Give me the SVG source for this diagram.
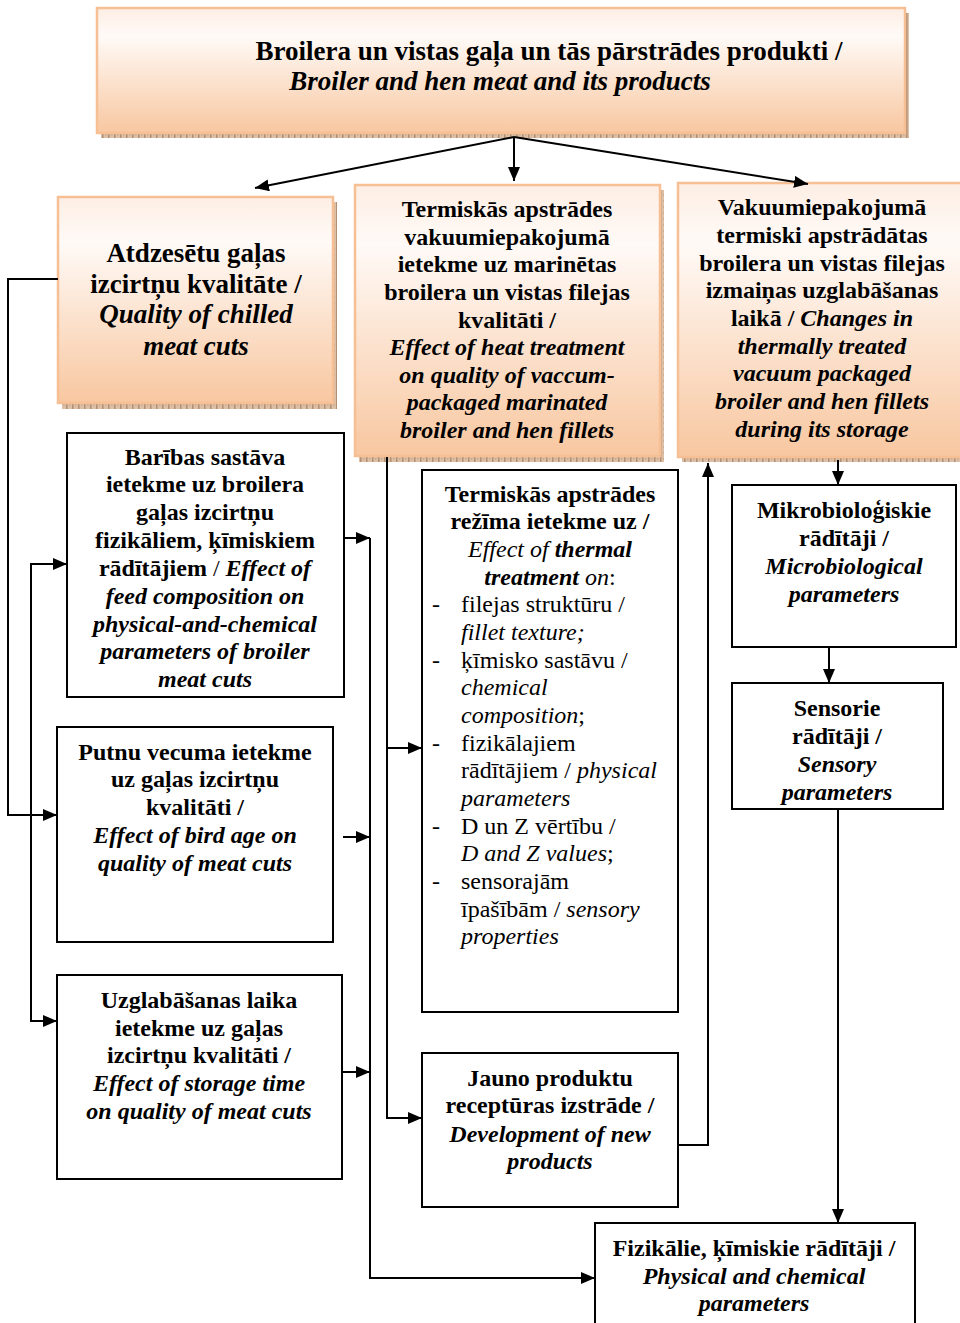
<svg xmlns="http://www.w3.org/2000/svg" width="960" height="1323" viewBox="0 0 960 1323" font-family="'Liberation Serif', 'Times New Roman', serif">
<defs>
<linearGradient id="peach" x1="0" y1="0" x2="0" y2="1">
<stop offset="0" stop-color="#fdeee4"/>
<stop offset="0.22" stop-color="#fffaf7"/>
<stop offset="1" stop-color="#f8c7a0"/>
</linearGradient>
<pattern id="shadowPat" width="6" height="6" patternUnits="userSpaceOnUse">
<rect width="6" height="6" fill="#dcbfa5"/>
<rect x="0" y="0" width="1.5" height="6" fill="#b28f72"/>
<rect x="3" y="2" width="1.5" height="1.5" fill="#c9a78a"/>
</pattern>
<marker id="ah" viewBox="0 0 14 12" refX="14" refY="6" markerWidth="14" markerHeight="12" markerUnits="userSpaceOnUse" orient="auto">
<path d="M0,0 L14,6 L0,12 z" fill="#000"/>
</marker>
</defs>
<style>
text{font-family:"Liberation Serif","Times New Roman",serif;font-size:24px;fill:#000}
.c{text-anchor:middle}
.b{font-weight:bold}
.bi{font-weight:bold;font-style:italic}
.i{font-style:italic}
.n{font-weight:normal;font-style:normal}
.big{font-size:27px}
.pbox{fill:url(#peach);stroke:#f7bf94;stroke-width:2.5}
.shadow{fill:url(#shadowPat)}
.wbox{fill:#fff;stroke:#000;stroke-width:2}
.ln{fill:none;stroke:#000;stroke-width:2}
</style>

<g id="node-title">
<rect class="shadow" x="101" y="13" width="808" height="125"/>
<rect class="pbox" x="97" y="8" width="808" height="125"/>
<text class="c b big" x="549" y="60">Broilera un vistas gaļa un tās pārstrādes produkti /</text>
<text class="c bi big" x="500" y="90">Broiler and hen meat and its products</text>
</g>

<g id="node-chilled">
<rect class="shadow" x="62" y="202" width="275" height="207"/>
<rect class="pbox" x="58" y="197" width="275" height="206"/>
<text class="c b big" x="196" y="262">Atdzesētu gaļas</text>
<text class="c b big" x="196" y="293">izcirtņu kvalitāte /</text>
<text class="c bi big" x="196" y="323">Quality of chilled</text>
<text class="c bi big" x="196" y="355">meat cuts</text>
</g>

<g id="node-heat-vacuum">
<rect class="shadow" x="359" y="190" width="305" height="272"/>
<rect class="pbox" x="355" y="185" width="305" height="271"/>
<text class="c b" x="507" y="217">Termiskās apstrādes</text>
<text class="c b" x="507" y="245">vakuumiepakojumā</text>
<text class="c b" x="507" y="272">ietekme uz marinētas</text>
<text class="c b" x="507" y="300">broilera un vistas filejas</text>
<text class="c b" x="507" y="328">kvalitāti /</text>
<text class="c bi" x="507" y="355">Effect of heat treatment</text>
<text class="c bi" x="507" y="383">on quality of vaccum-</text>
<text class="c bi" x="507" y="410">packaged marinated</text>
<text class="c bi" x="507" y="438">broiler and hen fillets</text>
</g>

<g id="node-storage-changes">
<rect class="shadow" x="682" y="188" width="290" height="274"/>
<rect class="pbox" x="678" y="183" width="290" height="274"/>
<text class="c b" x="822" y="215">Vakuumiepakojumā</text>
<text class="c b" x="822" y="243">termiski apstrādātas</text>
<text class="c b" x="822" y="271">broilera un vistas filejas</text>
<text class="c b" x="822" y="298">izmaiņas uzglabāšanas</text>
<text class="c b" x="822" y="326">laikā / <tspan class="bi">Changes in</tspan></text>
<text class="c bi" x="822" y="354">thermally treated</text>
<text class="c bi" x="822" y="381">vacuum packaged</text>
<text class="c bi" x="822" y="409">broiler and hen fillets</text>
<text class="c bi" x="822" y="437">during its storage</text>
</g>

<g id="node-feed">
<rect class="wbox" x="67" y="433" width="277" height="264"/>
<text class="c b" x="205" y="465">Barības sastāva</text>
<text class="c b" x="205" y="492">ietekme uz broilera</text>
<text class="c b" x="205" y="520">gaļas izcirtņu</text>
<text class="c b" x="205" y="548">fizikāliem, ķīmiskiem</text>
<text class="c b" x="205" y="576">rādītājiem<tspan class="n"> / </tspan><tspan class="bi">Effect of</tspan></text>
<text class="c bi" x="205" y="604">feed composition on</text>
<text class="c bi" x="205" y="632">physical-and-chemical</text>
<text class="c bi" x="205" y="659">parameters of broiler</text>
<text class="c bi" x="205" y="687">meat cuts</text>
</g>

<g id="node-bird-age">
<rect class="wbox" x="57" y="727" width="276" height="215"/>
<text class="c b" x="195" y="760">Putnu vecuma ietekme</text>
<text class="c b" x="195" y="787">uz gaļas izcirtņu</text>
<text class="c b" x="195" y="815">kvalitāti /</text>
<text class="c bi" x="195" y="843">Effect of bird age on</text>
<text class="c bi" x="195" y="871">quality of meat cuts</text>
</g>

<g id="node-storage-time">
<rect class="wbox" x="57" y="975" width="285" height="204"/>
<text class="c b" x="199" y="1008">Uzglabāšanas laika</text>
<text class="c b" x="199" y="1036">ietekme uz gaļas</text>
<text class="c b" x="199" y="1063">izcirtņu kvalitāti /</text>
<text class="c bi" x="199" y="1091">Effect of storage time</text>
<text class="c bi" x="199" y="1119">on quality of meat cuts</text>
</g>

<g id="node-thermal-regime">
<rect class="wbox" x="422" y="470" width="256" height="542"/>
<text class="c b" x="550" y="502">Termiskās apstrādes</text>
<text class="c b" x="550" y="529">režīma ietekme uz /</text>
<text class="c i" x="550" y="557">Effect of <tspan class="bi">thermal</tspan></text>
<text class="c bi" x="550" y="585">treatment<tspan class="i" font-weight="normal"> on</tspan><tspan class="n">:</tspan></text>
<text x="432" y="612">-</text>
<text x="461" y="612">filejas struktūru /</text>
<text class="i" x="461" y="640">fillet texture;</text>
<text x="432" y="668">-</text>
<text x="461" y="668">ķīmisko sastāvu /</text>
<text class="i" x="461" y="695">chemical</text>
<text x="461" y="723"><tspan class="i">composition</tspan>;</text>
<text x="432" y="751">-</text>
<text x="461" y="751">fizikālajiem</text>
<text x="461" y="778">rādītājiem / <tspan class="i">physical</tspan></text>
<text class="i" x="461" y="806">parameters</text>
<text x="432" y="834">-</text>
<text x="461" y="834">D un Z vērtību /</text>
<text x="461" y="861"><tspan class="i">D and Z values</tspan>;</text>
<text x="432" y="889">-</text>
<text x="461" y="889">sensorajām</text>
<text x="461" y="917">īpašībām / <tspan class="i">sensory</tspan></text>
<text class="i" x="461" y="944">properties</text>
</g>

<g id="node-new-products">
<rect class="wbox" x="422" y="1053" width="256" height="154"/>
<text class="c b" x="550" y="1086">Jauno produktu</text>
<text class="c b" x="550" y="1113">receptūras izstrāde /</text>
<text class="c bi" x="550" y="1142">Development of new</text>
<text class="c bi" x="550" y="1169">products</text>
</g>

<g id="node-micro">
<rect class="wbox" x="732" y="485" width="224" height="162"/>
<text class="c b" x="844" y="518">Mikrobioloģiskie</text>
<text class="c b" x="844" y="546">rādītāji /</text>
<text class="c bi" x="844" y="574">Microbiological</text>
<text class="c bi" x="844" y="602">parameters</text>
</g>

<g id="node-sensory">
<rect class="wbox" x="732" y="683" width="211" height="126"/>
<text class="c b" x="837" y="716">Sensorie</text>
<text class="c b" x="837" y="744">rādītāji /</text>
<text class="c bi" x="837" y="772">Sensory</text>
<text class="c bi" x="837" y="800">parameters</text>
</g>

<g id="node-physchem">
<rect class="wbox" x="595" y="1223" width="320" height="110"/>
<text class="c b" x="754" y="1256">Fizikālie, ķīmiskie rādītāji /</text>
<text class="c bi" x="754" y="1284">Physical and chemical</text>
<text class="c bi" x="754" y="1311">parameters</text>
</g>

<g id="connectors">
<line class="ln" x1="514" y1="137" x2="255" y2="188" marker-end="url(#ah)"/>
<line class="ln" x1="514" y1="138" x2="514" y2="181" marker-end="url(#ah)"/>
<line class="ln" x1="514" y1="137" x2="808" y2="184" marker-end="url(#ah)"/>
<path class="ln" d="M58,279 H8 V815 H57" marker-end="url(#ah)"/>
<path class="ln" d="M31,815 V564 H67" marker-end="url(#ah)"/>
<path class="ln" d="M31,815 V1021 H57" marker-end="url(#ah)"/>
<line class="ln" x1="344" y1="538" x2="370" y2="538" marker-end="url(#ah)"/>
<line class="ln" x1="343" y1="837" x2="370" y2="837" marker-end="url(#ah)"/>
<line class="ln" x1="342" y1="1072" x2="370" y2="1072" marker-end="url(#ah)"/>
<path class="ln" d="M370,538 V1278 H595" marker-end="url(#ah)"/>
<path class="ln" d="M387,457 V1118 H422" marker-end="url(#ah)"/>
<line class="ln" x1="387" y1="748" x2="422" y2="748" marker-end="url(#ah)"/>
<path class="ln" d="M678,1145 H708 V463" marker-end="url(#ah)"/>
<line class="ln" x1="838" y1="460" x2="838" y2="485" marker-end="url(#ah)"/>
<line class="ln" x1="829" y1="647" x2="829" y2="683" marker-end="url(#ah)"/>
<line class="ln" x1="838" y1="809" x2="838" y2="1223" marker-end="url(#ah)"/>
</g>
</svg>
